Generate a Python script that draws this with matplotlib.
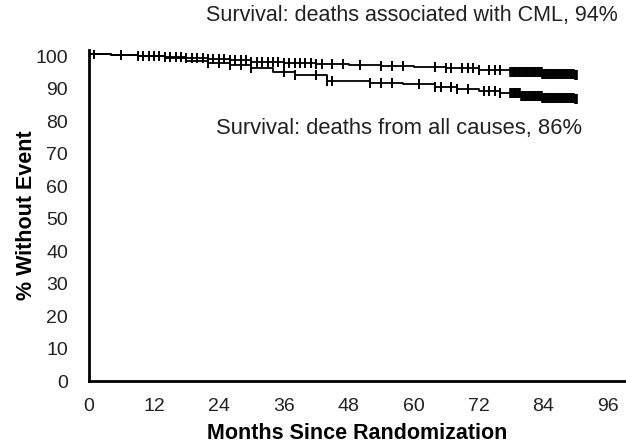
import matplotlib
matplotlib.use('Agg')
import matplotlib.pyplot as plt
import numpy as np

plt.rcParams['font.family'] = ['Liberation Sans', 'DejaVu Sans']

# step curves (months, % without event)
cml_t = [0, 4, 9, 14, 18, 22, 26, 30, 36, 42, 48, 54, 60, 66, 72, 78, 84, 90]
cml_s = [100.6, 100.4, 100.1, 99.7, 99.3, 99.0, 98.7, 98.3, 97.9, 97.5, 97.2, 97.0, 96.7, 96.2, 95.6, 95.0, 94.5, 94.3]

all_t = [0, 4, 9, 14, 18, 22, 26, 30, 34, 38, 44, 52, 58, 64, 68, 72, 76, 80, 84, 90]
all_s = [100.6, 100.4, 100.0, 99.3, 98.6, 97.9, 97.1, 96.2, 95.2, 94.2, 92.3, 91.8, 91.4, 90.6, 90.0, 89.3, 88.7, 87.8, 87.1, 86.9]

# censored observations
cml_cens = [1, 6, 9, 10, 11, 12, 13, 14, 15, 16, 17, 18, 19, 20, 21, 22, 23, 24, 25, 26, 27,
            28, 29, 30, 31, 32, 33, 34, 35, 36, 37, 38, 39, 40, 41, 42, 43, 45, 47, 50, 54, 56,
            58, 64, 66, 67, 69, 70, 71, 72, 74, 75, 76,
            78, 78.5, 79, 79.5, 80, 80.5, 81, 81.5, 82, 82.5, 83, 83.5, 84, 84.5, 85, 85.5,
            86, 86.5, 87, 87.5, 88, 88.5, 89, 89.5, 90]
all_cens = [22, 24, 26, 28, 30, 36, 38, 42, 44, 45, 52, 54, 56, 61, 64, 65, 67, 68, 70, 73, 74,
            75, 76,
            78, 78.5, 79, 79.5, 80, 80.5, 81, 81.5, 82, 82.5, 83, 83.5, 84, 84.5, 85, 85.5,
            86, 86.5, 87, 87.5, 88, 88.5, 89, 89.5, 90]

def surv_at(t, times, vals):
    idx = np.searchsorted(times, t, side='right') - 1
    return vals[idx]

fig = plt.figure(figsize=(6.26, 4.46), dpi=100)
ax = fig.add_axes([0.1422, 0.1457, 0.8556, 0.7433])

for times, vals, cens in [(cml_t, cml_s, cml_cens), (all_t, all_s, all_cens)]:
    ax.step(times, vals, where='post', color='black', lw=1.3)
    cy = [surv_at(c, times, vals) for c in cens]
    mew = [2.6 if c >= 78 else 1.4 for c in cens]
    for c, y, w in zip(cens, cy, mew):
        ax.plot([c], [y], ls='none', marker='|', color='black', markersize=7, markeredgewidth=w)

ax.set_xlim(0, 99)
ax.set_ylim(0, 102)
ax.set_xticks(range(0, 97, 12))
ax.set_yticks(range(0, 101, 10))
ax.tick_params(length=0, labelsize=14, colors='#222222')
ax.tick_params(axis='x', pad=12)
ax.tick_params(axis='y', pad=15)
for s in ['top', 'right']:
    ax.spines[s].set_visible(False)
for s in ['left', 'bottom']:
    ax.spines[s].set_linewidth(2)

ax.set_xlabel('Months Since Randomization', fontsize=15.5, fontweight='bold', labelpad=6)
ax.set_ylabel('% Without Event', fontsize=15.5, fontweight='bold')
ax.yaxis.set_label_coords(-0.097, 0.5)

fig.text(0.987, 0.966, 'Survival: deaths associated with CML, 94%', ha='right', va='center', fontsize=15.5, color='#222222')
ax.text(91.2, 77.8, 'Survival: deaths from all causes, 86%', ha='right', va='center', fontsize=15.8, color='#222222')

fig.savefig('out.png', dpi=100)
